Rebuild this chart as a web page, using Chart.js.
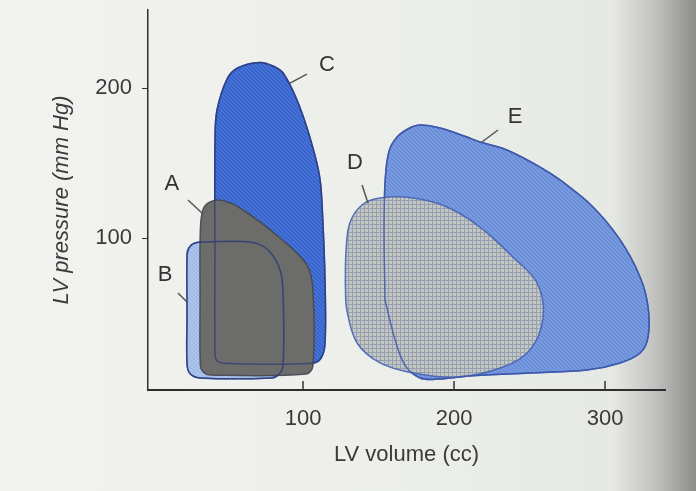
<!DOCTYPE html>
<html>
<head>
<meta charset="utf-8">
<script src="https://cdn.jsdelivr.net/npm/chart.js@4.4.0/dist/chart.umd.min.js"></script>
<style>
html, body { margin: 0; padding: 0; }
body {
  width: 696px; height: 491px; overflow: hidden;
  background: linear-gradient(to right, #f2f3f0 0%, #eceeea 60%, #e6e8e4 88%, #c2c3c0 94%, #8c8d8b 100%);
}
</style>
</head>
<body>
<canvas id="myCanvas" width="696" height="491"></canvas>
<script>
'use strict'

// pressure-volume loops: volume (cc), pressure (mm Hg)
var loopA_vol = [31.8, 32, 33.8, 38.4, 46.4, 58.3, 84.8, 102.6, 106.6, 106.6, 102, 38.4, 33.8, 32, 31.8]
var loopA_pres = [60, 105, 119, 124, 125, 120, 100, 82, 65, 15, 9.3, 8.7, 10.7, 15, 60]

var loopB_vol = [23.2, 23.2, 24.5, 28, 35, 65, 76.8, 84.8, 86.8, 86.8, 84, 79, 31.8, 25.2, 23.2, 23.2]
var loopB_pres = [50, 88.7, 93.5, 96.5, 97.3, 97.3, 92, 78.7, 62, 15.3, 9, 6.7, 6.7, 9.5, 16, 50]

var loopC_vol = [41.7, 41.7, 43, 49.7, 57, 71.5, 80.5, 86.8, 96, 104.6, 111, 113, 114.6, 114.6, 112, 106, 48, 42.5, 41.7, 41.7]
var loopC_pres = [90, 165, 185, 206, 213.5, 217, 214.5, 210, 192, 167, 141, 114, 70, 30, 20, 16.5, 16.5, 19, 30, 90]

var loopD_vol = [128, 128.5, 131, 139, 151, 172.8, 195.4, 217.2, 239, 255, 259, 250.3, 232.5, 202, 172.8, 151, 135.8, 129, 128]
var loopD_pres = [70, 92, 110, 122, 126.7, 126.7, 120.7, 107.3, 87.3, 70, 47.3, 25.3, 14, 7.3, 10, 16.7, 30, 52, 70]

var loopE_vol = [154.3, 153.6, 154.5, 157, 162.3, 170, 177.5, 190.7, 208.6, 217.2, 235, 257, 270.2, 292, 310, 323.2, 328.5, 328.5, 323.2, 310, 288, 250, 210, 190, 177.5, 167.5, 161, 154.3]
var loopE_pres = [58.7, 105.3, 140, 158, 167.3, 173, 175.3, 173.3, 167.3, 164, 158.7, 147.3, 138.7, 120.7, 98.7, 74, 54, 34, 23.3, 16.7, 12, 10, 8, 6, 6.7, 15.3, 32, 58.7]

var xTicks = [100, 200, 300]
var yTicks = [100, 200]

// loop letters and the short leader lines pointing at each loop
var labelNames = ["A", "B", "C", "D", "E"]
var labelVol = [13.2, 8.6, 115.9, 134.4, 240.4]
var labelPres = [136, 75.3, 215.3, 150, 180.7]
var leaderFrom = [[23.8, 125.3], [17.2, 63.3], [91.4, 203.3], [143, 123.3], [218.5, 164]]
var leaderTo = [[33.1, 116.7], [23.2, 57.3], [102.6, 209.3], [139.1, 135.3], [229.1, 172]]

var canvas = document.getElementById("myCanvas")
var ctx = canvas.getContext("2d")
var fontFamily = "'Liberation Sans', Arial, sans-serif"

function toPoints(vol, pres){
    var pts = []
    for(let i = 0; i < vol.length; i++){
        pts.push({x: vol[i], y: pres[i]})
    }
    return pts
}

// fine print-screen look of the textbook figure
function makePattern(base, line, kind){
    var c = document.createElement("canvas")
    c.width = 4
    c.height = 4
    var p = c.getContext("2d")
    p.fillStyle = base
    p.fillRect(0, 0, 4, 4)
    p.fillStyle = line
    if(kind === "grid"){
        p.fillRect(0, 0, 4, 1)
        p.fillRect(0, 0, 1, 4)
    } else {
        for(let i = 0; i < 4; i++){
            p.fillRect(i, (i + 1) % 4, 1, 1)
        }
    }
    return ctx.createPattern(c, "repeat")
}

function loopFill(label, vol, pres, bg, border, order){
    return {
        label: label,
        data: toPoints(vol, pres),
        showLine: true,
        fill: 'shape',
        backgroundColor: bg,
        borderColor: border,
        borderWidth: 1.5,
        tension: 0.35,
        pointRadius: 0,
        order: order
    }
}

function loopEdge(label, vol, pres, border, order){
    return {
        label: label,
        data: toPoints(vol, pres),
        showLine: true,
        fill: false,
        borderColor: border,
        borderWidth: 1.5,
        tension: 0.35,
        pointRadius: 0,
        order: order
    }
}

var letters = {
    id: 'letters',
    afterDraw: function(chart){
        var x = chart.scales.x
        var y = chart.scales.y
        var c = chart.ctx
        c.save()
        // inward ticks on the volume axis
        c.strokeStyle = "#333"
        c.lineWidth = 1.5
        for(let i = 0; i < xTicks.length; i++){
            var px = x.getPixelForValue(xTicks[i])
            c.beginPath()
            c.moveTo(px, y.bottom)
            c.lineTo(px, y.bottom - 9)
            c.stroke()
        }
        c.strokeStyle = "#555"
        c.lineWidth = 1.5
        for(let i = 0; i < labelNames.length; i++){
            c.beginPath()
            c.moveTo(x.getPixelForValue(leaderFrom[i][0]), y.getPixelForValue(leaderFrom[i][1]))
            c.lineTo(x.getPixelForValue(leaderTo[i][0]), y.getPixelForValue(leaderTo[i][1]))
            c.stroke()
        }
        c.fillStyle = "#333"
        c.font = "22px " + fontFamily
        c.textAlign = "center"
        c.textBaseline = "middle"
        for(let i = 0; i < labelNames.length; i++){
            c.fillText(labelNames[i], x.getPixelForValue(labelVol[i]), y.getPixelForValue(labelPres[i]))
        }
        c.restore()
    }
}

var blueC = makePattern("rgb(56,102,206)", "rgb(82,126,218)", "diag")
var blueE = makePattern("rgb(108,143,218)", "rgb(132,164,228)", "diag")
var grayD = makePattern("rgb(196,198,192)", "rgb(150,160,178)", "grid")
var blueB = makePattern("rgb(172,196,236)", "rgb(150,178,228)", "diag")

new Chart(ctx, {
    type: 'scatter',
    data: {
        datasets: [
            loopFill("C", loopC_vol, loopC_pres, blueC, "rgba(40,70,160,0.9)", 9),
            loopFill("E", loopE_vol, loopE_pres, blueE, "rgba(60,90,170,0.9)", 8),
            loopFill("B", loopB_vol, loopB_pres, blueB, "rgba(70,100,180,0.9)", 7),
            loopFill("A", loopA_vol, loopA_pres, "rgb(108,108,106)", "rgba(70,72,80,0.9)", 6),
            loopFill("D", loopD_vol, loopD_pres, grayD, "rgba(70,100,180,0.9)", 5),
            loopEdge("C edge", loopC_vol, loopC_pres, "rgba(45,60,120,0.75)", 4),
            loopEdge("B edge", loopB_vol, loopB_pres, "rgba(45,60,120,0.85)", 3),
            loopEdge("E edge", loopE_vol, loopE_pres, "rgba(60,85,170,0.8)", 2)
        ]
    },
    options: {
        responsive: false,
        animation: false,
        layout: { padding: { top: 10, right: 31, left: 0, bottom: 0 } },
        plugins: {
            legend: { display: false },
            tooltip: { enabled: false }
        },
        scales: {
            x: {
                type: 'linear',
                min: -2.65,
                max: 339.7,
                afterFit: function(scale){
                    scale.height = 101
                    scale.paddingLeft = 0
                    scale.paddingRight = 0
                },
                afterBuildTicks: function(scale){ scale.ticks = xTicks.map(v => ({value: v})) },
                border: { color: "#2e2e2e", width: 2 },
                grid: { display: false },
                ticks: { color: "#3a3a3a", padding: 8, font: { family: fontFamily, size: 22 }, maxRotation: 0 },
                title: {
                    display: true,
                    text: "LV volume (cc)",
                    color: "#3a3a3a",
                    font: { family: fontFamily, size: 22 },
                    padding: { top: 0, bottom: 23 }
                }
            },
            y: {
                type: 'linear',
                min: -1.33,
                max: 252,
                afterFit: function(scale){
                    scale.width = 148
                    scale.paddingTop = 0
                    scale.paddingBottom = 0
                },
                afterBuildTicks: function(scale){ scale.ticks = yTicks.map(v => ({value: v})) },
                border: { color: "#2e2e2e", width: 1.5 },
                grid: { drawOnChartArea: false, drawTicks: true, tickLength: 6, color: "#333" },
                ticks: { color: "#3a3a3a", padding: 10, font: { family: fontFamily, size: 22 } },
                title: {
                    display: true,
                    text: "LV pressure (mm Hg)",
                    color: "#3a3a3a",
                    font: { family: fontFamily, size: 22, style: 'italic' },
                    padding: { top: 49, bottom: 0 }
                }
            }
        }
    },
    plugins: [letters]
})
</script>
</body>
</html>
